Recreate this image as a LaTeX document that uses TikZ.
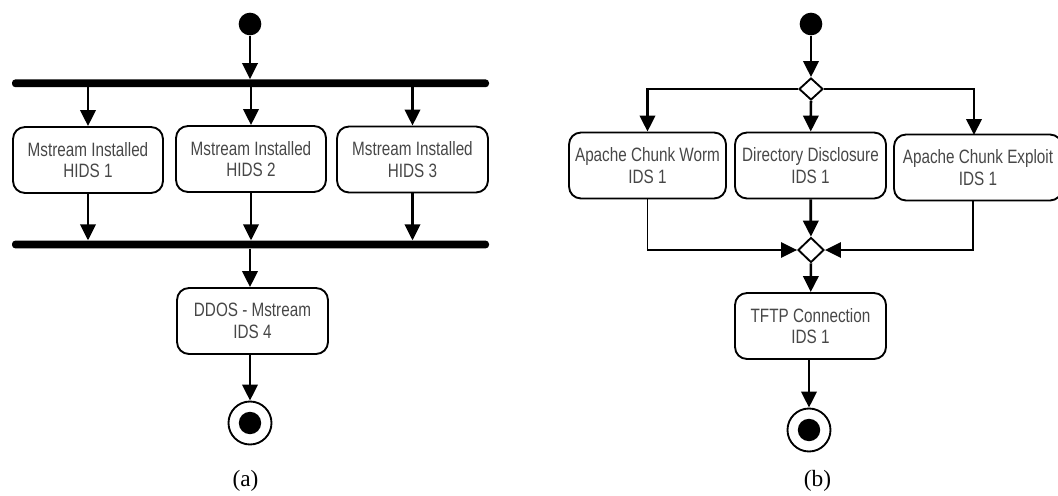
\documentclass[tikz,border=0pt]{standalone}
\usepackage{fontspec}
\setmainfont{Liberation Serif}
\newfontfamily\boxfont{Liberation Sans}[FakeStretch=0.79]
\usetikzlibrary{arrows.meta,shapes.geometric}
\begin{document}
\begin{tikzpicture}[x=0.75pt,y=-0.75pt,
  tip/.style={-{Triangle[width=11.5pt,length=12pt]}},
  flow/.style={tip,line width=2pt},
  thinflow/.style={tip,line width=1.3pt},
  activity/.style={draw,line width=1.4pt,rounded corners=9pt,
    minimum height=49.5pt,align=center,inner sep=0pt,
    font=\boxfont\fontsize{14.5}{16.3}\selectfont,text=black!72,
    execute at begin node={\rule{0pt}{16.4pt}}},
  startdot/.style={circle,fill=black,minimum size=17pt,inner sep=0pt},
  enddot/.style={circle,draw,line width=1.4pt,minimum size=32.25pt,inner sep=0pt,
    path picture={\fill (path picture bounding box.center) circle (8.4pt);}},
  syncbar/.style={fill=black,rounded corners=2.5pt,minimum width=357.75pt,
    minimum height=5.8pt,inner sep=0pt},
  choice/.style={diamond,draw,line width=1.4pt,fill=white,inner sep=0pt},
  caption/.style={font=\fontsize{17.5}{20}\selectfont}
]
\useasboundingbox (0,0) rectangle (1058,496);

% ---------- (a) fork / join ----------
\node[startdot] (sa) at (250,24) {};
\node[syncbar] (fork) at (250.5,83.3) {};
\node[activity,minimum width=112.5pt] (a1) at (88,160)
  {Mstream Installed\\HIDS 1};
\node[activity,minimum width=112.5pt] (a2) at (251,159)
  {Mstream Installed\\HIDS 2};
\node[activity,minimum width=113.25pt] (a3) at (412.5,159.5)
  {Mstream Installed\\HIDS 3};
\node[syncbar] (join) at (250.5,244.5) {};
\node[activity,minimum width=113.25pt] (a4) at (252.5,321)
  {DDOS - Mstream\\IDS 4};
\node[enddot] (ea) at (250,423) {};
\node[caption] (capa) at (245.5,481) {(a)};

\draw[flow] (sa) -- (sa |- fork.north);
\draw[flow] (a1 |- fork.south) -- (a1);
\draw[flow] (fork.south -| a2) -- (a2);
\draw[flow] (a3 |- fork.south) -- (a3);
\draw[flow] (a1.south) -- (a1.south |- join.north);
\draw[flow] (a2.south) -- (a2.south |- join.north);
\draw[flow] (a3.south) -- (a3.south |- join.north);
\draw[flow] (join.south -| ea) -- (ea |- a4.north);
\draw[flow] (a4.south -| ea) -- (ea);

% ---------- (b) decision / merge ----------
\node[startdot] (sb) at (811,24) {};
\node[choice,minimum width=18pt,minimum height=16.5pt] (d1) at (811,89) {};
\node[activity,minimum width=117.75pt] (b1) at (647.5,165.5)
  {Apache Chunk Worm\\IDS 1};
\node[activity,minimum width=113.25pt] (b2) at (810.5,165.5)
  {Directory Disclosure\\IDS 1};
\node[activity,minimum width=126pt] (b3) at (978,167.5)
  {Apache Chunk Exploit\\IDS 1};
\coordinate (b3in) at (974,135);
\coordinate (b3out) at (973,200);
\node[choice,minimum width=19.5pt,minimum height=18.75pt] (d2) at (811,250) {};
\node[activity,minimum width=113.25pt] (b4) at (810.5,326)
  {TFTP Connection\\IDS 1};
\node[enddot] (eb) at (809,430) {};
\node[caption] (capb) at (817.5,481) {(b)};

\draw[flow] (sb) -- (d1);
\draw[flow] (d1.west) -| (b1.north);
\draw[flow] (d1) -- (b2);
\draw[flow] (d1.east) -| (b3in);
\draw[thinflow] (b1.south) |- (d2.west);
\draw[flow] (b2) -- (d2);
\draw[thinflow] (b3out) |- (d2.east);
\draw[flow] (d2) -- (b4);
\draw[flow] (b4.south -| eb) -- (eb);
\end{tikzpicture}
\end{document}
